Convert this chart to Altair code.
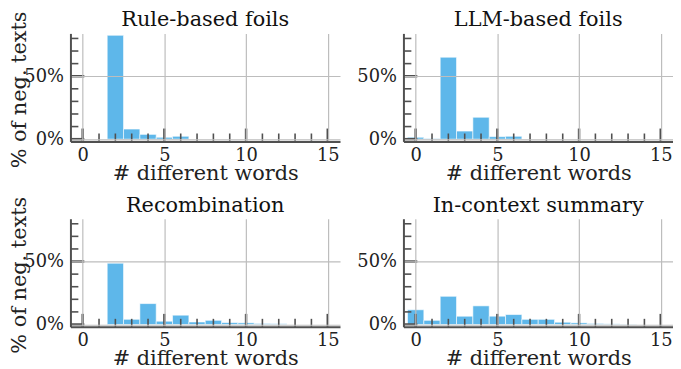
import altair as alt
import pandas as pd

# ---- data ----
panel_titles = ["Rule-based foils", "LLM-based foils", "Recombination", "In-context summary"]
n_words = list(range(16))
rule_based = [0, 0, 82.5, 8.0, 3.8, 1.5, 2.3, 0, 0, 0, 0, 0, 0, 0, 0, 0]
llm_based = [1.5, 0.5, 65.1, 6.4, 17.4, 2.0, 2.3, 0, 0, 0, 0, 0, 0, 0, 0, 0]
recombination = [0, 0, 48.7, 4.1, 16.6, 2.6, 7.4, 2.0, 3.3, 1.5, 1.3, 0.8, 0.6, 0, 0, 0]
in_context = [11.7, 3.3, 22.4, 6.6, 14.8, 6.6, 7.9, 4.1, 4.1, 1.8, 1.3, 0.8, 0.5, 0.3, 0, 0]
series = [rule_based, llm_based, recombination, in_context]

x_major = [0, 5, 10, 15]
x_minor = [1, 2, 3, 4, 6, 7, 8, 9, 11, 12, 13, 14]
y_major = [0, 0.5]
y_minor = [0.1, 0.2, 0.3, 0.4, 0.6, 0.7, 0.8]

rows = []
for t, vals in zip(panel_titles, series):
    for w, v in zip(n_words, vals):
        rows.append({"panel": t, "words": w, "pct": v / 100.0})
df = pd.DataFrame(rows)

W, H = 272, 109
FONT = "DejaVu Serif"
BLUE = "#56b4e9"
SPINE = "#505050"
GRID = "#bdbdbd"

xscale = alt.Scale(domain=[-0.75, 15.75], nice=False, zero=False)
yscale = alt.Scale(domain=[-0.018, 0.84], nice=False, zero=False)


def panel(title, show_ytitle):
    base = alt.Chart(df).transform_filter(alt.datum.panel == title)
    ykw = dict(
        values=y_major, format=".0%", grid=True, gridColor=GRID, gridWidth=1.2,
        ticks=False, domain=True, domainColor=SPINE, domainWidth=2,
        labelFont=FONT, labelFontSize=18, labelColor="#222", labelPadding=7,
        zindex=1,
    )
    if show_ytitle:
        ykw.update(title="% of neg. texts", titleFont=FONT, titleFontSize=21,
                   titleFontWeight="normal", titleColor="#222",
                   titleX=-45, titleY=H / 2 + 2, titleAngle=270,
                   titleBaseline="alphabetic", titleAlign="center")
    else:
        ykw.update(title=None)
    yaxis = alt.Axis(**ykw)
    xaxis = alt.Axis(
        values=x_major, format="d", grid=True, gridColor=GRID, gridWidth=1.2,
        ticks=False, domain=True, domainColor=SPINE, domainWidth=2,
        labelFont=FONT, labelFontSize=18, labelColor="#222", labelPadding=5,
        title="# different words", titleFont=FONT, titleFontSize=21,
        titleFontWeight="normal", titleColor="#222", titlePadding=-2,
        zindex=1,
    )
    bars = (
        base.transform_filter(alt.datum.pct > 0)
        .transform_calculate(x0="datum.words - 0.5", x1="datum.words + 0.5")
        .mark_rect(color=BLUE, opacity=0.95, stroke="white", strokeWidth=1, strokeOpacity=0.6)
        .encode(
            x=alt.X("x0:Q", scale=xscale, axis=xaxis),
            x2="x1:Q",
            y=alt.Y("pct:Q", scale=yscale, axis=yaxis),
            y2=alt.Y2(datum=0),
        )
    )
    xmaj = alt.Chart(pd.DataFrame({"v": x_major})).mark_rule(color=SPINE, strokeWidth=2.5).encode(
        x=alt.X("v:Q", scale=xscale, axis=xaxis), y=alt.value(H), y2=alt.value(H - 13))
    xmin = alt.Chart(pd.DataFrame({"v": x_minor})).mark_rule(color=SPINE, strokeWidth=1.6).encode(
        x=alt.X("v:Q", scale=xscale, axis=xaxis), y=alt.value(H), y2=alt.value(H - 8))
    ymaj = alt.Chart(pd.DataFrame({"v": y_major})).mark_rule(color=SPINE, strokeWidth=2.5).encode(
        y=alt.Y("v:Q", scale=yscale, axis=yaxis), x=alt.value(0), x2=alt.value(14))
    ymin = alt.Chart(pd.DataFrame({"v": y_minor})).mark_rule(color=SPINE, strokeWidth=1.6).encode(
        y=alt.Y("v:Q", scale=yscale, axis=yaxis), x=alt.value(0), x2=alt.value(8))
    ttl = alt.Chart(pd.DataFrame({"t": [title]})).mark_text(
        font=FONT, fontSize=21, color="#111", baseline="alphabetic", align="center"
    ).encode(text="t:N", x=alt.value(W / 2), y=alt.value(-7))
    return alt.layer(bars, xmaj, xmin, ymaj, ymin, ttl).properties(width=W, height=H)


top = alt.hconcat(panel(panel_titles[0], True), panel(panel_titles[1], False), spacing=16)
bottom = alt.hconcat(panel(panel_titles[2], True), panel(panel_titles[3], False), spacing=16)
chart = alt.vconcat(top, bottom, spacing=12).configure(
    font=FONT, padding=0
).configure_view(stroke=None)

chart.save("out.html", embed_options={"renderer": "svg", "actions": False})
